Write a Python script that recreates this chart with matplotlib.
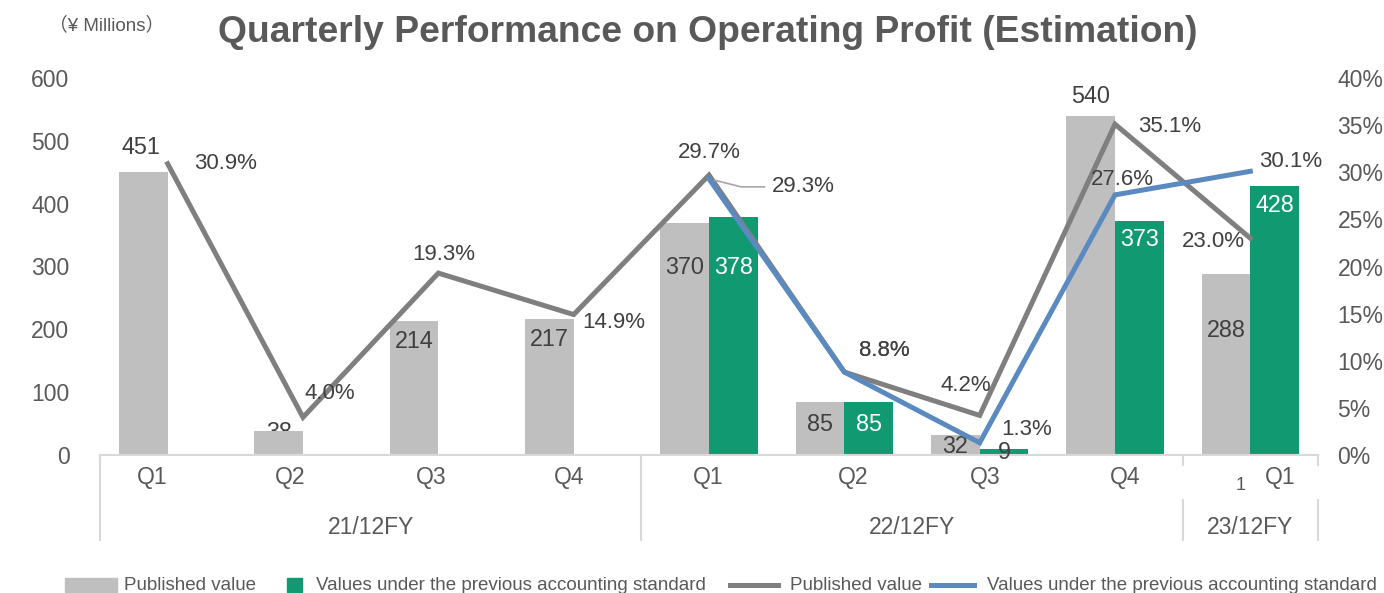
import numpy as np
import matplotlib
matplotlib.use("Agg")
import matplotlib.pyplot as plt
from matplotlib.patches import Rectangle
from matplotlib.lines import Line2D

plt.rcParams["font.family"] = ["Liberation Sans", "Noto Sans CJK JP", "DejaVu Sans"]

# ---- data -------------------------------------------------------------
quarters = ["Q1", "Q2", "Q3", "Q4", "Q1", "Q2", "Q3", "Q4", "Q1"]
years = ["21/12FY", "22/12FY", "23/12FY"]
year_spans = [(0, 4), (4, 8), (8, 9)]

published = [451, 38, 214, 217, 370, 85, 32, 540, 288]
previous = [np.nan, np.nan, np.nan, np.nan, 378, 85, 9, 373, 428]

margin_pub = [30.9, 4.0, 19.3, 14.9, 29.7, 8.8, 4.2, 35.1, 23.0]
margin_prev = [np.nan, np.nan, np.nan, np.nan, 29.3, 8.8, 1.3, 27.6, 30.1]

# label offsets in pixels (dx, dy) relative to bar top / line point
pub_lbl_off = [(-2, 24), (0, -1), (0, -21), (0, -21), (0, -45), (0, -23), (0, -12), (0, 19), (0, -56)]
prev_lbl_off = [None, None, None, None, (0, -50), (0, -23), (0, -3), (0, -19), (0, -19)]
mpub_lbl_off = [(58, 0), (27, 24), (5, 19), (40, -8), (0, 23), (40, 22), (-14, 30), (55, -2), (-37, -3)]
mprev_lbl_off = [None, None, None, None, (94, -8), (40, 22), (47, 13), (7, 15), (40, 10)]
# horizontal nudge (px) of the quarter labels, as in the reference
q_lbl_dx = [-15, -13, -7, -5, -1, 9, 6, 10, 30]

GRAY_BAR = "#BFBFBF"
GREEN = "#119A72"
GRAY_LINE = "#7F7F7F"
BLUE = "#5A8AC0"
TXT = "#404040"
AX_TXT = "#595959"
SEP = "#D9D9D9"

W, H = 1384, 593
fig = plt.figure(figsize=(W / 100, H / 100), dpi=100)
ax = fig.add_axes([100 / W, 1 - 455 / H, 1218 / W, 377 / H])
ax2 = ax.twinx()

x = np.arange(len(quarters))
bw = 0.36
px = (len(quarters)) / 1218.0  # data units per pixel on x

# bars
ax.bar(x - bw / 2, published, bw, color=GRAY_BAR, zorder=2)
ax.bar(x + bw / 2, previous, bw, color=GREEN, zorder=2)

for i, v in enumerate(published):
    dx, dy = pub_lbl_off[i]
    ax.annotate(str(v), (x[i] - bw / 2, v), xytext=(dx, dy), textcoords="offset pixels",
                ha="center", va="center", fontsize=16.8, color=TXT,
                zorder=1 if v == 38 else 3)
for i, v in enumerate(previous):
    if np.isnan(v):
        continue
    dx, dy = prev_lbl_off[i]
    col = TXT if v < 20 else "white"
    ax.annotate(str(int(v)), (x[i] + bw / 2, v), xytext=(dx, dy), textcoords="offset pixels",
                ha="center", va="center", fontsize=16.8, color=col, zorder=3)

ax.set_xlim(-0.5, len(quarters) - 0.5)
ax.set_ylim(0, 600)
ax.set_yticks(range(0, 601, 100))
ax.set_xticks([])
ax.tick_params(axis="y", length=0, pad=22, labelsize=16.5, labelcolor=AX_TXT)
for s in ax.spines.values():
    s.set_visible(False)
ax.spines["bottom"].set_visible(True)
ax.spines["bottom"].set_color(SEP)
ax.spines["bottom"].set_linewidth(1.5)

# lines
ax2.plot(x, margin_pub, color=GRAY_LINE, lw=3.6, solid_joinstyle="miter", zorder=4)
ax2.plot(x, margin_prev, color=BLUE, lw=3.6, solid_joinstyle="miter", zorder=5)
for i, v in enumerate(margin_pub):
    dx, dy = mpub_lbl_off[i]
    ax2.annotate(f"{v:.1f}%", (x[i], v), xytext=(dx, dy), textcoords="offset pixels",
                 ha="center", va="center", fontsize=16, color=TXT, zorder=6)
for i, v in enumerate(margin_prev):
    if np.isnan(v):
        continue
    dx, dy = mprev_lbl_off[i]
    arrow = dict(arrowstyle="-", color="#A6A6A6", lw=1.2, shrinkA=3, shrinkB=4,
                 relpos=(0, 0.5),
                 connectionstyle="angle,angleA=0,angleB=-14,rad=0") if i == 4 else None
    ax2.annotate(f"{v:.1f}%", (x[i], v), xytext=(dx, dy), textcoords="offset pixels",
                 ha="center", va="center", fontsize=16, color=TXT, zorder=6,
                 arrowprops=arrow)

ax2.set_ylim(0, 40)
ax2.set_yticks(range(0, 41, 5))
ax2.set_yticklabels([f"{t}%" for t in range(0, 41, 5)])
ax2.tick_params(axis="y", length=0, pad=14, labelsize=16.5, labelcolor=AX_TXT)
for s in ax2.spines.values():
    s.set_visible(False)

# category axis labels
tr = ax.get_xaxis_transform()
for i, q in enumerate(quarters):
    ax.text(x[i] + q_lbl_dx[i] * px, -0.061, q, transform=tr, ha="center", va="center",
            fontsize=16.5, color=AX_TXT, clip_on=False)
ax.text(x[8] - 5 * px, -0.08, "1", transform=tr, ha="right", va="center",
        fontsize=13, color=AX_TXT, clip_on=False)
for (a, b), yl in zip(year_spans, years):
    ax.text((a + b - 1) / 2, -0.191, yl, transform=tr, ha="center", va="center",
            fontsize=16.5, color=AX_TXT, clip_on=False)

# separators
for xs in [-0.5, 3.5]:
    ax.plot([xs, xs], [0, -0.225], transform=tr, color=SEP, lw=1.5, clip_on=False)
for xs in [7.5, 8.5]:
    ax.plot([xs, xs], [0, -0.027], transform=tr, color=SEP, lw=1.5, clip_on=False)
    ax.plot([xs, xs], [-0.119, -0.225], transform=tr, color=SEP, lw=1.5, clip_on=False)

# titles
fig.text(708 / W, 1 - 33 / H, "Quarterly Performance on Operating Profit (Estimation)",
         ha="center", va="center", fontsize=26.8, fontweight="bold", color=AX_TXT)
fig.text(107 / W, 1 - 25 / H, "（¥ Millions）", ha="center", va="center",
         fontsize=13.5, color=AX_TXT)

# legend (drawn manually in pixel space)
lg = fig.add_axes([0, 0, 1, 40 / H])
lg.set_xlim(0, W)
lg.set_ylim(H, H - 40)
lg.axis("off")
ly = 585
lg.add_patch(Rectangle((65, ly - 7), 52, 14, color=GRAY_BAR))
lg.text(124, ly, "Published value", va="center", fontsize=13.5, color=AX_TXT)
lg.add_patch(Rectangle((287, ly - 7), 15, 14, color=GREEN))
lg.text(316, ly, "Values under the previous accounting standard", va="center", fontsize=13.5, color=AX_TXT)
lg.add_line(Line2D([730, 778], [ly, ly], color=GRAY_LINE, lw=3.6))
lg.text(790, ly, "Published value", va="center", fontsize=13.5, color=AX_TXT)
lg.add_line(Line2D([931, 974], [ly, ly], color=BLUE, lw=3.6))
lg.text(987, ly, "Values under the previous accounting standard", va="center", fontsize=13.5, color=AX_TXT)

fig.savefig("out.png", dpi=100)
